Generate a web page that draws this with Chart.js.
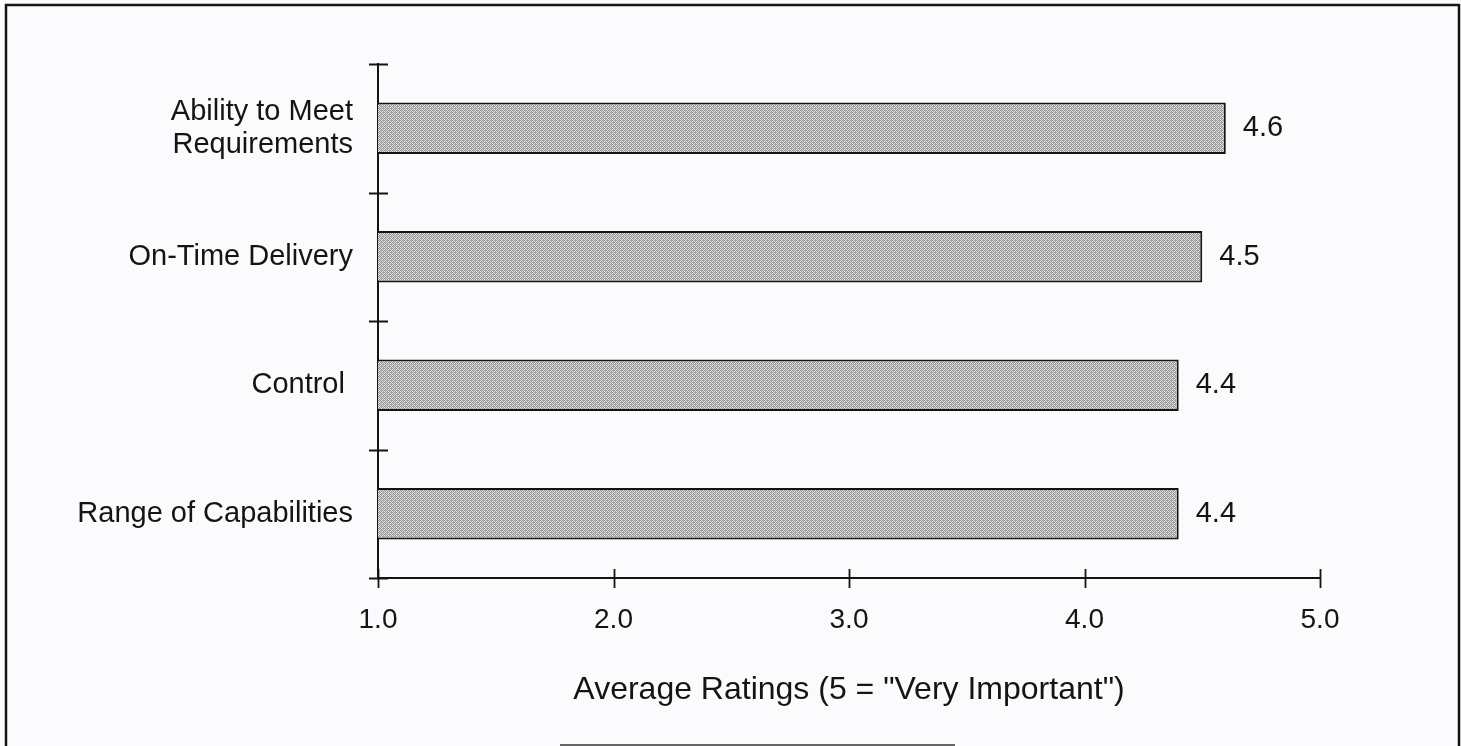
<!DOCTYPE html>
<html>
<head>
<meta charset="utf-8">
<title>Average Ratings</title>
<script src="https://cdn.jsdelivr.net/npm/chart.js@4.4.1/dist/chart.umd.min.js"></script>
<style>
  html, body { margin: 0; padding: 0; background: #fbfbfd; }
  #wrap { position: relative; width: 1461px; height: 746px; }
  canvas { display: block; }
</style>
</head>
<body>
<div id="wrap"><canvas id="chart" width="1461" height="746"></canvas></div>
<script>
// Supplier attributes and their average importance ratings
const categories = [["Ability to Meet", "Requirements"], "On-Time Delivery", "Control ", "Range of Capabilities"];
const ratings = [4.6, 4.5, 4.4, 4.4];
const xTickValues = [1, 2, 3, 4, 5];
const xAxisTitle = 'Average Ratings (5 = "Very Important")';

const FONT = "'Liberation Sans', Arial, sans-serif";
const INK = '#141414';

// Fine stippled grey fill for the bars
function stipple() {
  const c = document.createElement('canvas');
  c.width = 4; c.height = 4;
  const g = c.getContext('2d');
  g.fillStyle = '#e0e0e0';
  g.fillRect(0, 0, 4, 4);
  g.fillStyle = '#999999';
  for (let y = 0; y < 4; y++) {
    for (let x = 0; x < 4; x++) {
      if ((x + y) % 2 === 0) g.fillRect(x, y, 1, 1);
    }
  }
  g.fillStyle = '#b2b2b2';
  g.fillRect(1, 2, 1, 1);
  g.fillRect(3, 0, 1, 1);
  return g.createPattern(c, 'repeat');
}

// Page frame, axis cross ticks and value labels
const decorations = {
  id: 'decorations',
  beforeDraw(chart) {
    const ctx = chart.ctx;
    ctx.save();
    ctx.fillStyle = '#fbfbfd';
    ctx.fillRect(0, 0, chart.width, chart.height);
    ctx.strokeStyle = INK;
    ctx.lineWidth = 2.5;
    ctx.beginPath();
    ctx.moveTo(6, 760);
    ctx.lineTo(6, 5);
    ctx.lineTo(1459, 5);
    ctx.lineTo(1459, 760);
    ctx.stroke();
    ctx.strokeStyle = '#666';
    ctx.lineWidth = 2;
    ctx.beginPath();
    ctx.moveTo(560, 745);
    ctx.lineTo(955, 745);
    ctx.stroke();
    ctx.restore();
  },
  afterDraw(chart) {
    const ctx = chart.ctx;
    const xs = chart.scales.x, ys = chart.scales.y;
    const area = chart.chartArea;
    ctx.save();
    ctx.strokeStyle = INK;
    ctx.lineWidth = 1.8;
    ctx.beginPath();
    for (let i = 0; i <= categories.length; i++) {
      const y = Math.round(ys.getPixelForValue(i - 0.5)) + 0.5;
      ctx.moveTo(area.left - 9, y);
      ctx.lineTo(area.left + 10, y);
    }
    xTickValues.forEach(v => {
      const x = Math.round(xs.getPixelForValue(v)) + 0.5;
      ctx.moveTo(x, area.bottom - 9);
      ctx.lineTo(x, area.bottom + 10);
    });
    ctx.stroke();

    ctx.fillStyle = INK;
    ctx.font = '29px ' + FONT;
    ctx.textAlign = 'left';
    ctx.textBaseline = 'middle';
    const meta = chart.getDatasetMeta(0);
    meta.data.forEach((bar, i) => {
      ctx.fillText(ratings[i].toFixed(1), bar.x + 17, bar.y);
    });
    ctx.restore();
  }
};

new Chart(document.getElementById('chart'), {
  type: 'bar',
  data: {
    labels: categories,
    datasets: [{
      data: ratings,
      backgroundColor: stipple(),
      borderColor: INK,
      borderWidth: 2,
      borderSkipped: false,
      barPercentage: 0.4,
      categoryPercentage: 1.0
    }]
  },
  options: {
    indexAxis: 'y',
    responsive: false,
    animation: false,
    devicePixelRatio: 1,
    layout: { padding: { left: 0, right: 141, top: 64, bottom: 0 } },
    plugins: {
      legend: { display: false },
      tooltip: { enabled: false }
    },
    scales: {
      x: {
        type: 'linear',
        min: 1,
        max: 5,
        afterBuildTicks(scale) { scale.ticks = xTickValues.map(v => ({ value: v })); },
        afterFit(scale) { scale.height = 168; },
        grid: { display: false, drawTicks: false },
        border: { display: true, color: INK, width: 2 },
        ticks: {
          padding: 25,
          color: INK,
          font: { family: FONT, size: 28 },
          maxRotation: 0,
          callback: v => Number(v).toFixed(1)
        },
        title: {
          display: true,
          text: xAxisTitle,
          color: INK,
          font: { family: FONT, size: 32 },
          padding: { top: 0, bottom: 37 }
        }
      },
      y: {
        afterFit(scale) { scale.width = 378; },
        grid: { display: false, drawTicks: false, offset: true },
        border: { display: true, color: INK, width: 2 },
        ticks: {
          padding: 25,
          color: INK,
          font: { family: FONT, size: 29, lineHeight: 1.14 }
        }
      }
    }
  },
  plugins: [decorations]
});
</script>
</body>
</html>
